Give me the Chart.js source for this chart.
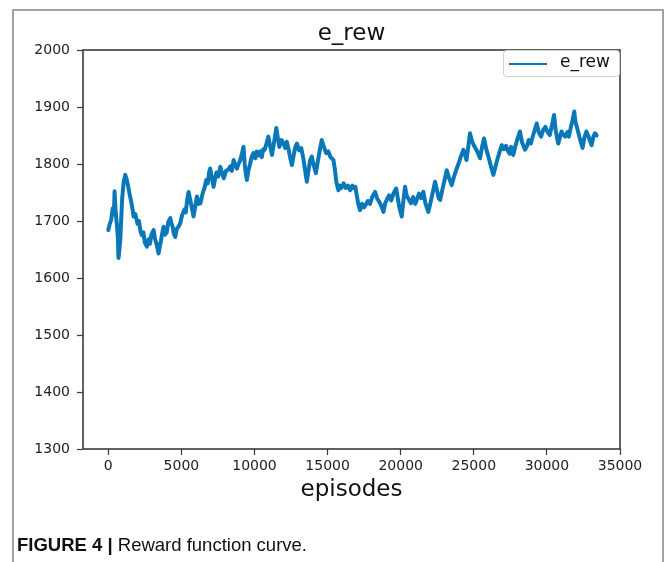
<!DOCTYPE html>
<html>
<head>
<meta charset="utf-8">
<script src="https://cdn.jsdelivr.net/npm/chart.js@4.4.1/dist/chart.umd.min.js"></script>
<style>
  html, body { margin: 0; padding: 0; background: #fff; }
  #wrap { position: relative; width: 665px; height: 562px; overflow: hidden; }
  #frame { position: absolute; left: 12px; top: 9px; width: 652px; height: 600px;
           border: 2px solid #a3a3a3; border-bottom: none; box-sizing: border-box; }
  #rewChart { position: absolute; left: 0; top: 0; }
  #caption { position: absolute; left: 17px; top: 534px; font-family: "Liberation Sans", Arial, sans-serif;
             font-size: 18.5px; color: #111; white-space: nowrap; }
  #caption b { font-weight: bold; }
</style>
</head>
<body>
<div id="wrap">
  <div id="frame"></div>
  <canvas id="rewChart" width="665" height="562"></canvas>
  <div id="caption"><b>FIGURE 4</b> <b>|</b> Reward function curve.</div>
</div>
<script>
// episodes (x) and e_rew (y)
var episodes = [0,100,200,300,380,430,500,600,650,700,760,820,900,950,1050,1160,1250,1350,1450,1550,1650,1730,1850,2000,2100,2200,2300,2400,2500,2640,2750,2850,2950,3100,3200,3300,3440,3520,3600,3700,3780,3880,4000,4100,4240,4330,4400,4480,4580,4680,4800,4920,5050,5200,5300,5400,5490,5600,5700,5830,5950,6060,6180,6300,6450,6600,6700,6800,6900,6970,7080,7200,7300,7400,7520,7660,7780,7900,8050,8200,8350,8450,8570,8680,8800,8900,9000,9120,9250,9330,9400,9480,9580,9700,9800,9930,10050,10150,10280,10390,10500,10600,10700,10820,10950,11080,11200,11350,11490,11600,11700,11850,12000,12100,12210,12330,12450,12560,12700,12800,12900,13050,13200,13350,13480,13580,13700,13800,13920,14050,14200,14300,14450,14600,14750,14900,15050,15200,15400,15500,15600,15740,15850,15950,16100,16250,16400,16540,16700,16800,16900,17000,17100,17220,17350,17500,17600,17750,17900,18050,18250,18380,18500,18650,18820,18950,19100,19200,19350,19500,19690,19800,19900,20070,20180,20300,20400,20550,20700,20850,21000,21100,21250,21400,21550,21700,21890,22000,22150,22350,22500,22600,22700,22850,23000,23150,23300,23490,23650,23830,23950,24100,24290,24400,24500,24620,24740,24850,25000,25150,25300,25430,25550,25700,25850,26000,26150,26340,26480,26600,26750,26910,27050,27200,27300,27450,27550,27700,27850,28000,28160,28300,28500,28650,28750,28900,29050,29150,29300,29450,29600,29750,29900,30050,30200,30350,30490,30600,30700,30780,30900,31000,31100,31250,31400,31500,31650,31750,31870,31950,32100,32250,32440,32550,32700,32850,32950,33060,33180,33290,33400];
var eRew = [1684,1695,1702,1722,1712,1752,1718,1690,1672,1635,1650,1668,1712,1740,1768,1781,1774,1762,1748,1736,1722,1708,1712,1695,1700,1682,1675,1680,1662,1655,1668,1660,1676,1684,1668,1660,1643,1655,1665,1680,1690,1676,1680,1698,1705,1695,1690,1678,1672,1686,1690,1696,1710,1720,1715,1738,1751,1738,1725,1708,1726,1743,1730,1731,1748,1760,1772,1766,1786,1792,1776,1760,1774,1785,1778,1795,1784,1775,1788,1790,1796,1788,1807,1798,1792,1800,1805,1816,1830,1800,1784,1772,1788,1800,1812,1819,1810,1822,1815,1822,1812,1826,1825,1836,1848,1830,1816,1840,1863,1845,1830,1842,1835,1828,1839,1826,1810,1798,1818,1830,1836,1824,1828,1808,1786,1769,1790,1806,1813,1798,1784,1800,1822,1842,1830,1819,1822,1812,1807,1790,1768,1754,1762,1758,1766,1758,1762,1754,1762,1758,1760,1744,1730,1719,1730,1724,1728,1735,1730,1742,1751,1740,1735,1728,1716,1732,1740,1745,1736,1748,1757,1740,1725,1708,1735,1760,1745,1738,1731,1742,1730,1737,1748,1740,1751,1730,1716,1728,1745,1769,1752,1740,1737,1755,1772,1789,1776,1763,1778,1792,1800,1812,1825,1816,1807,1830,1854,1842,1833,1826,1818,1810,1828,1845,1826,1813,1798,1781,1795,1807,1820,1833,1826,1832,1825,1818,1830,1816,1832,1845,1857,1838,1825,1832,1842,1836,1850,1858,1871,1855,1848,1860,1865,1856,1851,1868,1886,1860,1845,1836,1848,1857,1852,1848,1856,1848,1866,1876,1892,1874,1860,1845,1828,1845,1857,1848,1840,1833,1848,1854,1850];
var xTicks = [0,5000,10000,15000,20000,25000,30000,35000];
var yTicks = [1300,1400,1500,1600,1700,1800,1900,2000];

var lineBlue = '#0a77b8';

// spines around the plot and the framed legend in the top right corner
var boxPlugin = {
	id: 'boxPlugin',
	afterDraw: function(chart) {
		var ctx = chart.ctx;
		var a = chart.chartArea;
		ctx.save();
		ctx.strokeStyle = '#3a3a3a';
		ctx.lineWidth = 1.6;
		ctx.strokeRect(a.left, a.top, a.right - a.left, a.bottom - a.top);

		var l = a.right - 117, t = a.top, w = 116, h = 26;
		ctx.fillStyle = 'rgba(255,255,255,0.8)';
		ctx.strokeStyle = '#cfcfcf';
		ctx.lineWidth = 1;
		ctx.beginPath();
		ctx.roundRect(l + 0.5, t + 0.5, w, h, 3);
		ctx.fill();
		ctx.stroke();

		var ds = chart.data.datasets[0];
		ctx.strokeStyle = ds.borderColor;
		ctx.lineWidth = 2.2;
		ctx.beginPath();
		ctx.moveTo(l + 6, t + 14);
		ctx.lineTo(l + 44, t + 14);
		ctx.stroke();
		ctx.fillStyle = '#111';
		ctx.font = '17px "DejaVu Sans"';
		ctx.textBaseline = 'middle';
		ctx.fillText(ds.label, l + 57, t + 13);
		ctx.restore();
	}
};

var ctx = document.getElementById('rewChart').getContext('2d');
var rewChart = new Chart(ctx, {
	type: 'line',
	data: {
		datasets: [{
			label: 'e_rew',
			data: episodes.map(function(x, i) { return { x: x, y: eRew[i] }; }),
			borderColor: lineBlue,
			backgroundColor: lineBlue,
			borderWidth: 4,
			borderJoinStyle: 'round',
			borderCapStyle: 'round',
			pointRadius: 0,
			tension: 0,
			fill: false
		}]
	},
	options: {
		responsive: false,
		animation: false,
		layout: { padding: { left: 0, right: 45, top: 0, bottom: 57 } },
		scales: {
			x: {
				type: 'linear',
				min: -1730,
				max: 35000,
				afterBuildTicks: function(scale) {
					scale.ticks = xTicks.map(function(v) { return { value: v }; });
				},
				afterFit: function(scale) { scale.height = 56; },
				border: { display: false },
				grid: { drawOnChartArea: false, drawTicks: true, tickLength: 6, tickColor: '#3a3a3a', tickWidth: 1.2 },
				ticks: { color: '#222', padding: 3, maxRotation: 0, autoSkip: false,
					callback: function(v) { return String(v); },
					font: { family: '"DejaVu Sans"', size: 14 } },
				title: { display: true, text: 'episodes', color: '#111', padding: { top: 0, bottom: 1 },
					font: { family: '"DejaVu Sans"', size: 23 } }
			},
			y: {
				min: 1300,
				max: 2000,
				afterBuildTicks: function(scale) {
					scale.ticks = yTicks.map(function(v) { return { value: v }; });
				},
				afterFit: function(scale) { scale.width = 83; },
				border: { display: false },
				grid: { drawOnChartArea: false, drawTicks: true, tickLength: 6, tickColor: '#3a3a3a', tickWidth: 1.2 },
				ticks: { color: '#222', padding: 7, callback: function(v) { return String(v); },
					font: { family: '"DejaVu Sans"', size: 14 } }
			}
		},
		plugins: {
			title: {
				display: true,
				text: 'e_rew',
				fullSize: false,
				color: '#111',
				padding: { top: 20, bottom: 2.4 },
				font: { family: '"DejaVu Sans"', size: 23, weight: 'normal' }
			},
			legend: { display: false },
			tooltip: { enabled: false }
		}
	},
	plugins: [boxPlugin]
});
</script>
</body>
</html>
